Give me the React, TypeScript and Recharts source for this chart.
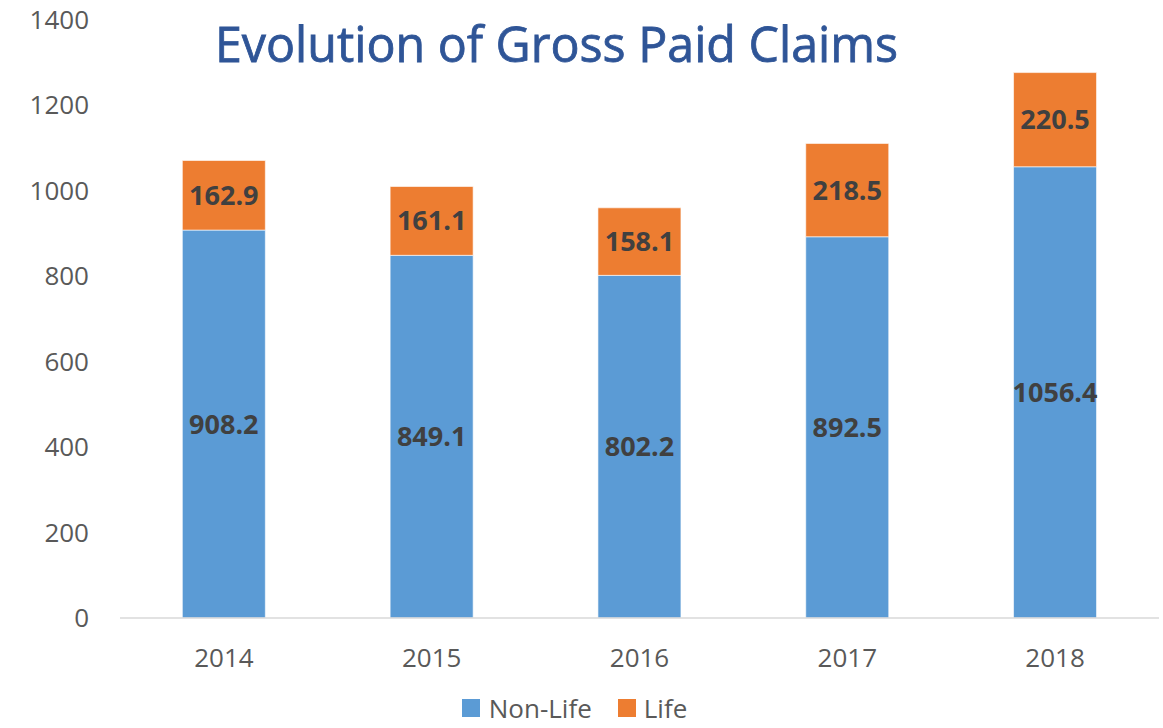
import React from 'react';
import { BarChart, Bar, XAxis, YAxis, Legend, LabelList } from 'recharts';

const years = ['2014', '2015', '2016', '2017', '2018'];
const nonLife = [908.2, 849.1, 802.2, 892.5, 1056.4];
const life = [162.9, 161.1, 158.1, 218.5, 220.5];
const yTicks = [0, 200, 400, 600, 800, 1000, 1200, 1400];

const FONT = '"Open Sans", "Liberation Sans", sans-serif';

const data = years.map((year, i) => ({ year, nonLife: nonLife[i], life: life[i] }));

const YTick = (props: any) => {
  const { x, y, payload } = props;
  return (
    <text x={x + 3} y={y} dy={9} textAnchor="end" fontSize={26} fill="#595959" fontFamily={FONT}>
      {payload.value}
    </text>
  );
};

const XTick = (props: any) => {
  const { x, y, payload } = props;
  return (
    <text x={x} y={y} dy={41} textAnchor="middle" fontSize={26} fill="#595959" fontFamily={FONT}>
      {payload.value}
    </text>
  );
};

const LegendContent = () => (
  <div style={{ display: 'flex', justifyContent: 'center', alignItems: 'center', fontFamily: FONT, fontSize: 26, color: '#595959', marginLeft: -12, paddingTop: 6 }}>
    <span style={{ width: 18, height: 18, background: '#5B9BD5', display: 'inline-block', marginRight: 9 }} />
    <span style={{ marginRight: 26 }}>Non-Life</span>
    <span style={{ width: 18, height: 18, background: '#ED7D31', display: 'inline-block', marginRight: 8 }} />
    <span>Life</span>
  </div>
);

export default function App() {
  return (
    <div style={{ position: 'absolute', left: 0, top: 0, width: 1163, height: 728, background: '#fff' }}>
      <BarChart
        width={1163}
        height={728}
        data={data}
        margin={{ top: 20, right: 4, left: 2, bottom: 0 }}
        barCategoryGap="30%"
      >
        <XAxis
          dataKey="year"
          height={66}
          tick={<XTick />}
          tickLine={false}
          axisLine={{ stroke: '#D9D9D9', strokeWidth: 1.5 }}
        />
        <YAxis
          width={118}
          domain={[0, 1400]}
          ticks={yTicks}
          tick={<YTick />}
          tickLine={false}
          axisLine={false}
          tickMargin={28}
        />
        <Legend verticalAlign="bottom" height={44} content={<LegendContent />} />
        <Bar dataKey="nonLife" stackId="a" fill="#5B9BD5" stroke="#ffffff" strokeWidth={0.6} isAnimationActive={false}>
          <LabelList dataKey="nonLife" position="center" fill="#404040" fontSize={27} fontWeight="bold" fontFamily={FONT} />
        </Bar>
        <Bar dataKey="life" stackId="a" fill="#ED7D31" stroke="#ffffff" strokeWidth={0.6} isAnimationActive={false}>
          <LabelList dataKey="life" position="center" fill="#404040" fontSize={27} fontWeight="bold" fontFamily={FONT} />
        </Bar>
      </BarChart>
      <svg width={1163} height={100} style={{ position: 'absolute', left: 0, top: 0, pointerEvents: 'none' }}>
        <text
          x={215}
          y={62}
          fontSize={50}
          fill="#2F5597"
          stroke="#2F5597"
          strokeWidth={0.8}
          fontFamily={FONT}
          textLength={683}
          lengthAdjust="spacingAndGlyphs"
        >
          Evolution of Gross Paid Claims
        </text>
      </svg>
    </div>
  );
}
